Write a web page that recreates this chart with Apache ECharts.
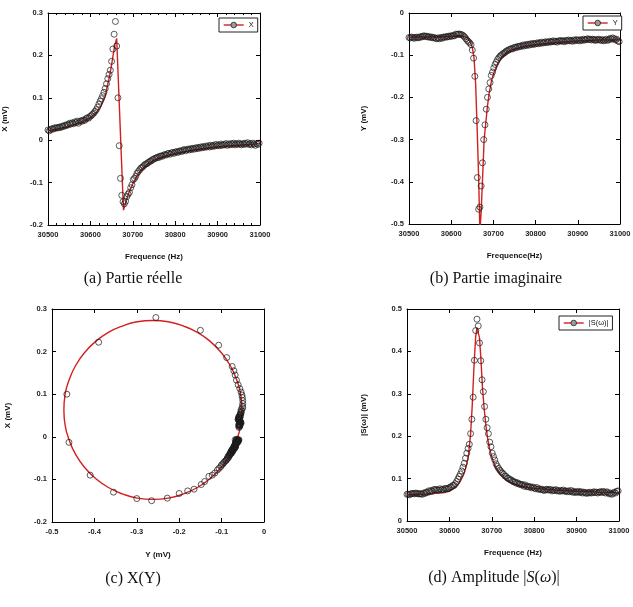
<!DOCTYPE html>
<html>
<head>
<meta charset="utf-8">
<script src="https://cdn.jsdelivr.net/npm/echarts/dist/echarts.min.js"></script>
<style>
  html, body { margin: 0; padding: 0; background: #fff; }
  #chart { width: 633px; height: 607px; }
</style>
</head>
<body>
<div id="chart"></div>
<script>
// frequences de mesure (Hz)
const freq = [
  30500,30503,30506,30509,30512,30515,30518,30521,30524,30527,
  30530,30533,30536,30539,30542,30545,30548,30551,30554,30557,
  30560,30563,30566,30569,30572,30575,30578,30581,30584,30587,
  30590,30593,30596,30599,30602,30605,30608,30611,30614,30617,
  30620,30623,30626,30629,30632,30635,30638,30641,30644,30647,
  30650,30653,30656,30659,30662,30665,30668,30671,30674,30677,
  30680,30683,30686,30689,30692,30695,30698,30701,30704,30707,
  30710,30713,30716,30719,30722,30725,30728,30731,30734,30737,
  30740,30743,30746,30749,30752,30755,30758,30761,30764,30767,
  30770,30773,30776,30779,30782,30785,30788,30791,30794,30797,
  30800,30803,30806,30809,30812,30815,30818,30821,30824,30827,
  30830,30833,30836,30839,30842,30845,30848,30851,30854,30857,
  30860,30863,30866,30869,30872,30875,30878,30881,30884,30887,
  30890,30893,30896,30899,30902,30905,30908,30911,30914,30917,
  30920,30923,30926,30929,30932,30935,30938,30941,30944,30947,
  30950,30953,30956,30959,30962,30965,30968,30971,30974,30977,
  30980,30983,30986,30989,30992,30995,30998
];
// partie reelle X (mV)
const xData = [
  0.024,0.022,0.025,0.027,0.026,0.029,0.028,0.030,0.029,0.031,
  0.030,0.033,0.032,0.035,0.034,0.037,0.036,0.040,0.038,0.041,
  0.039,0.043,0.041,0.045,0.040,0.044,0.046,0.045,0.048,0.047,
  0.051,0.053,0.052,0.056,0.058,0.061,0.064,0.068,0.072,0.078,
  0.085,0.092,0.098,0.105,0.113,0.122,0.133,0.145,0.155,0.165,
  0.186,0.215,0.250,0.280,0.222,0.100,-0.013,-0.090,-0.130,-0.145,
  -0.150,-0.144,-0.133,-0.127,-0.123,-0.112,-0.105,-0.093,-0.090,-0.085,
  -0.078,-0.074,-0.070,-0.066,-0.064,-0.061,-0.058,-0.056,-0.055,-0.052,
  -0.050,-0.049,-0.046,-0.045,-0.043,-0.042,-0.040,-0.041,-0.038,-0.037,
  -0.038,-0.035,-0.034,-0.035,-0.032,-0.031,-0.033,-0.030,-0.029,-0.031,
  -0.028,-0.027,-0.029,-0.026,-0.025,-0.027,-0.024,-0.022,-0.025,-0.023,
  -0.021,-0.023,-0.020,-0.022,-0.019,-0.021,-0.018,-0.020,-0.017,-0.019,
  -0.016,-0.018,-0.015,-0.017,-0.014,-0.016,-0.013,-0.016,-0.012,-0.015,
  -0.012,-0.014,-0.010,-0.013,-0.011,-0.013,-0.009,-0.012,-0.010,-0.011,
  -0.008,-0.012,-0.009,-0.011,-0.008,-0.010,-0.007,-0.011,-0.008,-0.010,
  -0.007,-0.009,-0.011,-0.008,-0.010,-0.007,-0.009,-0.006,-0.010,-0.008,
  -0.011,-0.007,-0.009,-0.012,-0.008,-0.010,-0.007
];
// partie imaginaire Y (mV)
const yData = [
  -0.058,-0.059,-0.057,-0.058,-0.060,-0.058,-0.057,-0.059,-0.058,-0.056,
  -0.057,-0.055,-0.054,-0.056,-0.055,-0.057,-0.056,-0.058,-0.057,-0.059,
  -0.058,-0.060,-0.061,-0.059,-0.061,-0.058,-0.060,-0.057,-0.058,-0.056,
  -0.057,-0.055,-0.056,-0.054,-0.055,-0.053,-0.054,-0.050,-0.051,-0.050,
  -0.050,-0.051,-0.052,-0.054,-0.057,-0.061,-0.065,-0.068,-0.071,-0.075,
  -0.088,-0.107,-0.150,-0.255,-0.390,-0.465,-0.460,-0.410,-0.355,-0.300,
  -0.265,-0.228,-0.200,-0.180,-0.165,-0.148,-0.140,-0.130,-0.122,-0.116,
  -0.110,-0.106,-0.102,-0.100,-0.097,-0.095,-0.093,-0.090,-0.089,-0.087,
  -0.086,-0.084,-0.085,-0.082,-0.081,-0.082,-0.079,-0.080,-0.078,-0.079,
  -0.076,-0.078,-0.075,-0.077,-0.074,-0.076,-0.073,-0.075,-0.072,-0.074,
  -0.073,-0.071,-0.073,-0.070,-0.072,-0.069,-0.071,-0.070,-0.068,-0.070,
  -0.069,-0.067,-0.069,-0.068,-0.066,-0.068,-0.067,-0.069,-0.066,-0.067,
  -0.065,-0.067,-0.066,-0.068,-0.065,-0.066,-0.064,-0.066,-0.065,-0.067,
  -0.064,-0.066,-0.063,-0.065,-0.064,-0.066,-0.063,-0.065,-0.062,-0.064,
  -0.063,-0.061,-0.063,-0.062,-0.064,-0.062,-0.063,-0.065,-0.063,-0.064,
  -0.062,-0.064,-0.065,-0.063,-0.066,-0.064,-0.062,-0.065,-0.063,-0.060,
  -0.062,-0.059,-0.061,-0.064,-0.062,-0.066,-0.068
];
// amplitude |S| (mV)
const ampData = [
  0.063,0.063,0.062,0.064,0.065,0.065,0.064,0.066,0.065,0.064,
  0.064,0.064,0.063,0.066,0.065,0.068,0.067,0.071,0.069,0.072,
  0.070,0.074,0.074,0.074,0.073,0.073,0.076,0.073,0.075,0.073,
  0.077,0.076,0.076,0.078,0.080,0.081,0.084,0.084,0.088,0.093,
  0.099,0.105,0.111,0.118,0.127,0.136,0.148,0.160,0.171,0.181,
  0.206,0.240,0.292,0.379,0.449,0.476,0.460,0.420,0.378,0.333,
  0.305,0.270,0.240,0.220,0.206,0.186,0.175,0.160,0.152,0.144,
  0.135,0.129,0.124,0.120,0.116,0.113,0.110,0.106,0.105,0.101,
  0.100,0.097,0.097,0.094,0.092,0.092,0.089,0.090,0.087,0.087,
  0.085,0.086,0.082,0.085,0.081,0.082,0.080,0.081,0.078,0.080,
  0.078,0.076,0.079,0.075,0.076,0.074,0.075,0.073,0.072,0.074,
  0.075,0.073,0.074,0.074,0.071,0.073,0.072,0.074,0.071,0.072,
  0.070,0.072,0.071,0.073,0.070,0.071,0.069,0.071,0.069,0.072,
  0.068,0.070,0.067,0.069,0.068,0.070,0.067,0.069,0.066,0.068,
  0.067,0.065,0.067,0.066,0.068,0.066,0.067,0.069,0.067,0.068,
  0.066,0.068,0.069,0.067,0.070,0.068,0.066,0.069,0.067,0.064,
  0.066,0.063,0.065,0.068,0.066,0.070,0.071
];

// courbes d'ajustement (rouge)
const fitFreq = [30500,30525,30550,30575,30600,30615,30625,30635,30640,30645,30650,30654,30658,30662,30665,30668,30671,30674,30678,30682,30686,30690,30695,30700,30710,30720,30735,30750,30770,30800,30850,30900,30950,31000];
const fitX = [0.022,0.027,0.033,0.041,0.053,0.066,0.080,0.104,0.128,0.150,0.178,0.203,0.226,0.240,0.164,0.088,0.012,-0.064,-0.165,-0.152,-0.138,-0.126,-0.114,-0.103,-0.084,-0.070,-0.057,-0.047,-0.039,-0.031,-0.022,-0.016,-0.012,-0.008];
const fitY = [-0.058,-0.057,-0.057,-0.057,-0.055,-0.054,-0.054,-0.057,-0.061,-0.068,-0.082,-0.105,-0.170,-0.290,-0.390,-0.520,-0.470,-0.400,-0.300,-0.260,-0.220,-0.190,-0.163,-0.145,-0.120,-0.105,-0.091,-0.085,-0.080,-0.075,-0.070,-0.066,-0.064,-0.064];
const fitAmp = [0.062,0.063,0.064,0.066,0.070,0.080,0.092,0.113,0.130,0.155,0.205,0.275,0.365,0.435,0.456,0.459,0.432,0.388,0.315,0.265,0.226,0.196,0.170,0.150,0.125,0.110,0.096,0.088,0.082,0.077,0.073,0.070,0.068,0.067];

// cercle ajuste X(Y)
const circY = [-0.052,-0.055,-0.065,-0.080,-0.101,-0.127,-0.157,-0.190,-0.226,-0.262,-0.299,-0.334,-0.367,-0.397,-0.423,-0.444,-0.459,-0.469,-0.472,-0.469,-0.459,-0.444,-0.423,-0.397,-0.367,-0.334,-0.299,-0.262,-0.226,-0.190,-0.157,-0.127,-0.101,-0.080,-0.065,-0.055,-0.052];
const circX = [0.063,0.100,0.135,0.168,0.198,0.224,0.245,0.260,0.270,0.273,0.270,0.260,0.245,0.224,0.198,0.168,0.135,0.100,0.063,0.027,-0.009,-0.042,-0.072,-0.098,-0.119,-0.134,-0.144,-0.147,-0.144,-0.134,-0.119,-0.098,-0.072,-0.042,-0.009,0.027,0.063];

const RED = '#d41f1f';
const SANS = 'Liberation Sans, Arial, sans-serif';
const SERIF = 'Liberation Serif, Times New Roman, serif';

function fmt(v) { return String(+(+v).toFixed(2)); }

// axe principal + axe miroir (haut / droite) avec graduations interieures
function axisPair(dim, grid, min, max, interval, name, nameGap, minor) {
    let common = {
        gridIndex: grid, type: 'value', min: min, max: max, interval: interval,
        axisLine: { show: true, onZero: false, lineStyle: { color: '#000', width: 1 } },
        axisTick: { show: true, inside: true, length: 4, lineStyle: { color: '#000', width: 1 } },
        minorTick: { show: !!minor, splitNumber: 5, length: 2, lineStyle: { color: '#000', width: 1 } },
        splitLine: { show: false },
        minorSplitLine: { show: false }
    };
    let main = Object.assign({}, common, {
        position: dim == 'x' ? 'bottom' : 'left',
        name: name, nameLocation: 'middle', nameGap: nameGap,
        nameTextStyle: { fontFamily: SANS, fontWeight: 'bold', fontSize: 8, color: '#111' },
        axisLabel: { fontFamily: SANS, fontWeight: 'bold', fontSize: 7.5, color: '#222', margin: dim == 'x' ? 6 : 5, formatter: fmt }
    });
    let mirror = Object.assign({}, common, {
        position: dim == 'x' ? 'top' : 'right',
        axisLabel: { show: false }
    });
    return [main, mirror];
}

let xAxes = [].concat(
    axisPair('x', 0, 30500, 31000, 100, 'Frequence (Hz)', 28, true),
    axisPair('x', 1, 30500, 31000, 100, 'Frequence(Hz)', 28, false),
    axisPair('x', 2, -0.5, 0, 0.1, 'Y (mV)', 29, false),
    axisPair('x', 3, 30500, 31000, 100, 'Frequence (Hz)', 28, false)
);
let yAxes = [].concat(
    axisPair('y', 0, -0.2, 0.3, 0.1, 'X (mV)', 39, false),
    axisPair('y', 1, -0.5, 0, 0.1, 'Y (mV)', 41, false),
    axisPair('y', 2, -0.2, 0.3, 0.1, 'X (mV)', 40, false),
    axisPair('y', 3, 0, 0.5, 0.1, '|S(ω)| (mV)', 39, false)
);

function fitLine(name, g, data, smooth) {
    return {
        type: 'line', name: name, xAxisIndex: 2 * g, yAxisIndex: 2 * g,
        data: data, symbol: 'circle', showSymbol: false, smooth: smooth || false,
        lineStyle: { color: RED, width: 1.4 }, itemStyle: { color: RED },
        z: 2, silent: true
    };
}
function points(name, g, data) {
    return {
        type: 'scatter', name: name, xAxisIndex: 2 * g, yAxisIndex: 2 * g,
        data: data, symbol: 'circle', symbolSize: 6,
        itemStyle: { color: 'rgba(0,0,0,0)', borderColor: '#1a1a1a', borderWidth: 0.9 },
        z: 3, silent: true
    };
}

function legendBox(name, left, top) {
    return {
        data: [name], left: left, top: top, orient: 'horizontal',
        itemWidth: 20, itemHeight: 7, padding: [3, 4, 3, 4],
        borderColor: '#222', borderWidth: 1, borderRadius: 0,
        backgroundColor: '#fff', selectedMode: false,
        textStyle: { fontFamily: SANS, fontSize: 7.5, color: '#111' },
        itemStyle: { color: '#9a9a9a', borderColor: '#222', borderWidth: 0.8 },
        lineStyle: { color: RED, width: 1.4 }
    };
}

function caption(x, y, rich, text) {
    return {
        type: 'text', x: x, y: y,
        style: {
            text: text, textAlign: 'center', textVerticalAlign: 'middle',
            fontFamily: SERIF, fontSize: 16, fill: '#111', rich: rich
        }
    };
}

let italic = { fontFamily: SERIF, fontSize: 16, fontStyle: 'italic', fill: '#111' };
let upright = { fontFamily: SERIF, fontSize: 16, fill: '#111' };

let option = {
    animation: false,
    backgroundColor: '#fff',
    grid: [
        { left: 48, top: 13, width: 212, height: 212, outerBoundsMode: 'none', containLabel: false },
        { left: 409, top: 13, width: 211, height: 211, outerBoundsMode: 'none', containLabel: false },
        { left: 52, top: 309, width: 212, height: 213, outerBoundsMode: 'none', containLabel: false },
        { left: 407, top: 309, width: 212, height: 212, outerBoundsMode: 'none', containLabel: false }
    ],
    xAxis: xAxes,
    yAxis: yAxes,
    legend: [
        legendBox('X', 219, 18),
        legendBox('Y', 583, 16),
        legendBox('|S(ω)|', 559, 316)
    ],
    series: [
        fitLine('X', 0, fitFreq.map((f, i) => [f, fitX[i]])),
        points('X mesure', 0, freq.map((f, i) => [f, xData[i]])),
        fitLine('Y', 1, fitFreq.map((f, i) => [f, fitY[i]])),
        points('Y mesure', 1, freq.map((f, i) => [f, yData[i]])),
        fitLine('cercle', 2, circY.map((y, i) => [y, circX[i]]), 0.5),
        points('X(Y) mesure', 2, freq.map((f, i) => [yData[i], xData[i]])),
        fitLine('|S(ω)|', 3, fitFreq.map((f, i) => [f, fitAmp[i]])),
        points('|S| mesure', 3, freq.map((f, i) => [f, ampData[i]]))
    ],
    graphic: [
        caption(133, 279, {}, '(a) Partie réelle'),
        caption(496, 279, {}, '(b) Partie imaginaire'),
        caption(133, 579, {}, '(c) X(Y)'),
        caption(494, 578, { u: upright, i: italic }, '{u|(d) Amplitude |}{i|S}{u|(}{i|ω}{u|)|}')
    ]
};

let myChart = echarts.init(document.getElementById('chart'), null, { renderer: 'canvas' });
myChart.setOption(option);
</script>
</body>
</html>
